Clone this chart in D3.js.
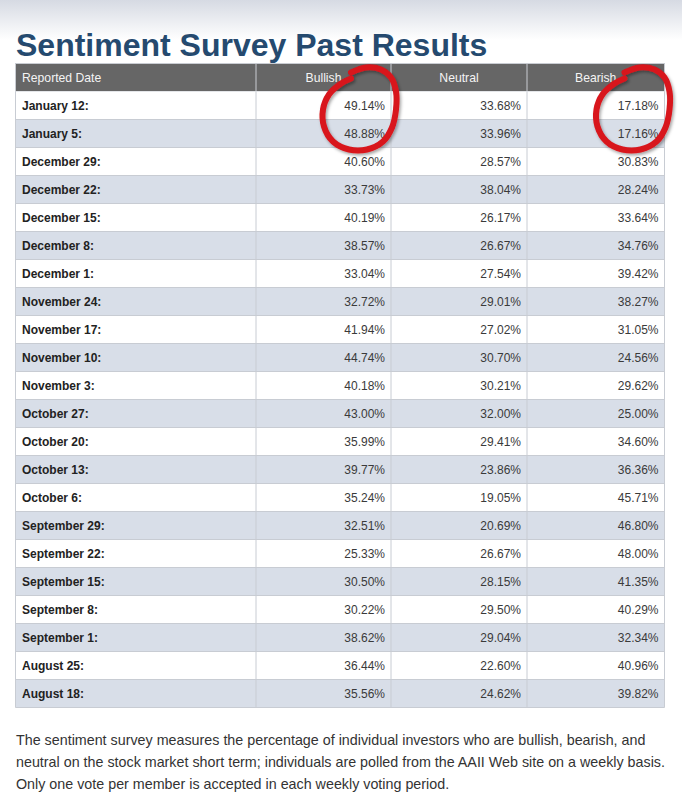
<!DOCTYPE html>
<html>
<head>
<meta charset="utf-8">
<script src="https://cdn.jsdelivr.net/npm/d3@7"></script>
<style>
  html, body { margin: 0; padding: 0; background: #fff; }
  svg { display: block; }
</style>
</head>
<body>
<svg id="chart" width="682" height="804"></svg>
<script>
// ----------------------------
// Data
// ----------------------------
const title = "Sentiment Survey Past Results";
const columns = ["Reported Date", "Bullish", "Neutral", "Bearish"];
const dates = [
  "January 12:", "January 5:", "December 29:", "December 22:", "December 15:",
  "December 8:", "December 1:", "November 24:", "November 17:", "November 10:",
  "November 3:", "October 27:", "October 20:", "October 13:", "October 6:",
  "September 29:", "September 22:", "September 15:", "September 8:",
  "September 1:", "August 25:", "August 18:"
];
const bullish = [49.14, 48.88, 40.60, 33.73, 40.19, 38.57, 33.04, 32.72, 41.94, 44.74,
  40.18, 43.00, 35.99, 39.77, 35.24, 32.51, 25.33, 30.50, 30.22, 38.62, 36.44, 35.56];
const neutral = [33.68, 33.96, 28.57, 38.04, 26.17, 26.67, 27.54, 29.01, 27.02, 30.70,
  30.21, 32.00, 29.41, 23.86, 19.05, 20.69, 26.67, 28.15, 29.50, 29.04, 22.60, 24.62];
const bearish = [17.18, 17.16, 30.83, 28.24, 33.64, 34.76, 39.42, 38.27, 31.05, 24.56,
  29.62, 25.00, 34.60, 36.36, 45.71, 46.80, 48.00, 41.35, 40.29, 32.34, 40.96, 39.82];
// cells circled in red: [column, first row, last row]
const highlights = [["Bullish", 0, 1], ["Bearish", 0, 1]];
const footnote = [
  "The sentiment survey measures the percentage of individual investors who are bullish, bearish, and",
  "neutral on the stock market short term; individuals are polled from the AAII Web site on a weekly basis.",
  "Only one vote per member is accepted in each weekly voting period."
];

// ----------------------------
// Layout
// ----------------------------
const svg = d3.select("#chart");
const width = 682;
const font = "'Liberation Sans', Arial, sans-serif";
const tableLeft = 15.5, tableRight = 664.5;
const headTop = 63.5, headBottom = 91.5, tableBottom = 707.5;
const colEdges = [tableLeft, 256, 391, 527, tableRight];

const x = d3.scaleOrdinal().domain(columns).range(colEdges.slice(0, 4));
const xEnd = d3.scaleOrdinal().domain(columns).range(colEdges.slice(1));
const y = d3.scaleBand().domain(dates).range([headBottom, tableBottom]);

const fmt = d => d3.format(".2f")(d) + "%";
const rows = dates.map((d, i) => ({ date: d, Bullish: bullish[i], Neutral: neutral[i], Bearish: bearish[i], i }));

// top gradient
const defs = svg.append("defs");
const grad = defs.append("linearGradient").attr("id", "topfade")
    .attr("x1", 0).attr("x2", 0).attr("y1", 0).attr("y2", 1);
grad.append("stop").attr("offset", 0).attr("stop-color", "#d6dae3");
grad.append("stop").attr("offset", 1).attr("stop-color", "#ffffff");
svg.append("rect").attr("width", width).attr("height", 40).attr("fill", "url(#topfade)");

const shadow = defs.append("filter").attr("id", "shadow")
    .attr("x", "-20%").attr("y", "-20%").attr("width", "140%").attr("height", "140%");
shadow.append("feDropShadow").attr("dx", 1.5).attr("dy", 2).attr("stdDeviation", 1.5)
    .attr("flood-color", "#000").attr("flood-opacity", 0.35);

// Title
svg.append("text")
    .attr("x", 16).attr("y", 55.5)
    .attr("font-family", font).attr("font-weight", "bold").attr("font-size", 32)
    .attr("fill", "#254a6f")
    .text(title);

// Header
svg.append("rect")
    .attr("x", tableLeft).attr("y", headTop)
    .attr("width", tableRight - tableLeft).attr("height", headBottom - headTop)
    .attr("fill", "#666666").attr("stroke", "#c9ccd2");

svg.selectAll("line.headsep").data(columns.slice(1)).join("line")
    .attr("class", "headsep")
    .attr("x1", d => x(d)).attr("x2", d => x(d))
    .attr("y1", headTop).attr("y2", headBottom)
    .attr("stroke", "#c9ccd2");

svg.selectAll("text.head").data(columns).join("text")
    .attr("class", "head")
    .attr("x", (d, i) => i === 0 ? x(d) + 6.5 : (x(d) + xEnd(d)) / 2)
    .attr("y", (headTop + headBottom) / 2 + 4.5)
    .attr("text-anchor", (d, i) => i === 0 ? "start" : "middle")
    .attr("font-family", font).attr("font-size", 12.2)
    .attr("fill", "#f4f4f4")
    .text(d => d);

// Body rows
const rowG = svg.selectAll("g.row").data(rows).join("g")
    .attr("class", "row")
    .attr("transform", d => `translate(0,${y(d.date)})`);

rowG.append("rect")
    .attr("x", tableLeft).attr("width", tableRight - tableLeft)
    .attr("height", y.bandwidth())
    .attr("fill", d => d.i % 2 ? "#d8dee8" : "#ffffff");

rowG.append("text")
    .attr("x", x("Reported Date") + 6.5)
    .attr("y", y.bandwidth() / 2 + 4.5)
    .attr("font-family", font).attr("font-size", 12).attr("font-weight", "bold")
    .attr("fill", "#222")
    .text(d => d.date);

columns.slice(1).forEach(c => {
  rowG.append("text")
      .attr("x", xEnd(c) - 6)
      .attr("y", y.bandwidth() / 2 + 4.5)
      .attr("text-anchor", "end")
      .attr("font-family", font).attr("font-size", 12)
      .attr("fill", "#3a3a3a")
      .text(d => fmt(d[c]));
});

// grid lines
svg.selectAll("line.hrow").data(dates).join("line")
    .attr("class", "hrow")
    .attr("x1", tableLeft).attr("x2", tableRight)
    .attr("y1", d => y(d) + y.bandwidth()).attr("y2", d => y(d) + y.bandwidth())
    .attr("stroke", "#c8ccd3");

svg.selectAll("line.vcol").data(colEdges).join("line")
    .attr("class", "vcol")
    .attr("x1", d => d).attr("x2", d => d)
    .attr("y1", headBottom).attr("y2", tableBottom)
    .attr("stroke", "#c8ccd3");

// Red hand-drawn circles, offsets relative to cell right edge and the row boundary
const loop = [[-40, -47], [-25, -52], [-10, -50], [0, -42], [5, -28], [5, -10], [1, 8],
  [-8, 22], [-24, 30], [-42, 30], [-58, 22], [-67, 7], [-68, -10], [-62, -25],
  [-50, -36], [-40, -41]];
const loopLine = d3.line().curve(d3.curveCatmullRom.alpha(0.5));

highlights.forEach(([c, r0, r1]) => {
  const cx = xEnd(c);
  const cy = (y(dates[r0]) + y(dates[r1]) + y.bandwidth()) / 2;
  svg.append("path")
      .attr("d", loopLine(loop.map(p => [cx + p[0], cy + p[1]])))
      .attr("fill", "none")
      .attr("stroke", "#d8141c")
      .attr("stroke-width", 6)
      .attr("stroke-linecap", "round")
      .attr("filter", "url(#shadow)");
});

// Footnote
svg.selectAll("text.note").data(footnote).join("text")
    .attr("class", "note")
    .attr("x", 16)
    .attr("y", (d, i) => 745 + i * 22)
    .attr("font-family", font).attr("font-size", 14.3)
    .attr("fill", "#333")
    .text(d => d);
</script>
</body>
</html>
